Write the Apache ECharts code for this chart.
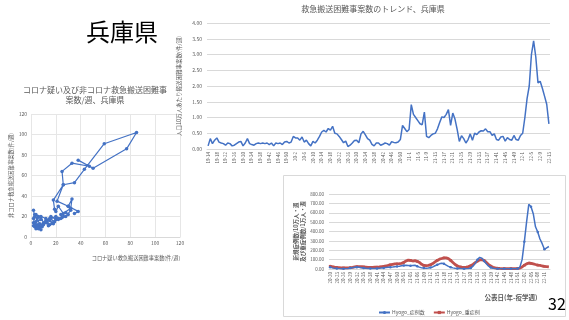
<!DOCTYPE html>
<html><head><meta charset="utf-8">
<script src="https://cdn.jsdelivr.net/npm/echarts@6/dist/echarts.min.js"></script>
<style>html,body{margin:0;padding:0;background:#fff}#c{width:569px;height:320px}</style>
</head><body><div id="c"></div>
<script>
// ---- scatter: [covid-suspected, non-covid] weekly cases, chronological ----
const scatterPoints = [
 [2,26],[3,20],[2,14],[5,12],[3,10],[4,8],[6,11],[8,7],[5,9],[3,13],[2,18],[4,22],[6,20],[8,17],[4,15],[2,11],
 [5,18],[3,22],[7,13],[9,10],[12,15],[15,12],[10,14],[8,20],[12,18],[15,16],[17,14],[14,11],[18,13],[20,17],
 [16,20],[22,17],[25,19],[24,22],[28,24],[30,22],[26,20],[22,18],[19,15],[15,18],[13,14],[10,12],[8,10],[6,8],
 [9,12],[12,16],[16,18],[20,20],[24,18],[28,20],[32,26],[30,30],[33,37],[32,28],[26,23],[22,30],[20,25],[19,27],
 [18,36],[26,51],[35,53],[43,66],[59,91],[85,102],[77,86],[50,67],[38,75],[47,69],[33,72],[25,64],[26,51],[21,35],
 [30,30],[38,25],[35,23]
];
// ---- top trend: week segments [year, firstWeek, lastWeek] ----
const topWeekSegments = [[19,14,52],[20,1,53],[21,1,52],[22,1,13]];
const topValues = [
 0.10,0.33,0.17,0.28,0.35,0.22,0.19,0.17,0.12,0.19,0.17,0.10,0.12,0.17,0.22,0.24,0.10,0.19,0.33,0.17,
 0.14,0.12,0.17,0.19,0.17,0.19,0.17,0.19,0.14,0.19,0.10,0.19,0.17,0.19,0.14,0.22,0.24,0.19,0.22,
 0.40,0.35,0.35,0.28,0.38,0.22,0.28,0.17,0.10,0.24,0.19,0.28,0.40,0.54,0.59,0.54,0.65,0.60,0.72,
 0.50,0.48,0.40,0.30,0.20,0.25,0.08,0.12,0.19,0.27,0.28,0.20,0.48,0.56,0.45,0.33,0.28,0.15,0.10,0.19,0.19,0.12,
 0.15,0.19,0.17,0.12,0.23,0.21,0.20,0.22,0.30,0.75,0.65,0.55,0.62,1.41,1.10,1.00,0.90,0.80,0.77,1.17,
 0.40,0.36,0.43,0.48,0.50,0.64,0.84,1.02,1.00,1.10,1.25,0.75,1.14,0.95,0.62,0.24,0.42,0.33,0.19,0.30,
 0.48,0.28,0.50,0.46,0.54,0.58,0.57,0.64,0.55,0.55,0.43,0.48,0.30,0.28,0.38,0.40,0.25,0.36,0.30,0.28,
 0.43,0.30,0.28,0.43,0.50,1.00,1.60,2.00,3.00,3.43,2.92,2.10,2.15,1.93,1.68,1.42,0.80
];
// ---- bottom chart ----
const bottomWeekSegments = [[20,20,53],[21,1,52],[22,1,13]];
const hyogoCases = [
 20,12,8,5,4,3,3,4,6,10, 14,18,20,18,14,10,8,6,5,5,
 5,6,8,10,12,15,18,20,22,25, 28,30,35,38,40,38,35,38,40,30,
 20,12,10,9,10,15,22,35,45,55, 62,55,42,28,18,12,8,6,5,4,
 4,4,5,10,30,60,100,124,115,85, 55,30,15,8,5,3,3,2,2,2,
 2,2,2,2,2,20,100,290,500,690, 665,590,450,395,320,270,210,225,240
];
const hyogoSevere = [
 30,24,20,17,15,13,12,12,13,15, 18,22,25,25,24,22,20,18,17,18,
 20,20,22,25,28,32,38,45,50,55, 55,57,60,70,85,95,92,85,90,82,
 70,50,38,35,38,45,58,75,92,105, 112,118,118,110,92,70,48,32,24,20,
 18,20,25,35,50,68,85,97,100,90, 70,48,30,18,12,8,6,5,5,5,
 5,5,5,5,6,10,22,40,55,64, 60,55,48,42,38,32,28,25,22
];
const topYTicks = {min:0, max:4, interval:0.5};
const bottomYTicks = {min:0, max:800, interval:100};

function weeks(segs, pad){
  const out=[];
  segs.forEach(([y,a,b])=>{for(let w=a;w<=b;w++){out.push(y+'-'+(pad&&w<10?'0'+w:w));}});
  return out;
}
const topCats = weeks(topWeekSegments,false);
const bottomCats = weeks(bottomWeekSegments,true);

const FONT = '"Noto Sans CJK JP"';
const gray='#595959', grid='#d9d9d9', blue='#4472C4', red='#C0504D';
const chart = echarts.init(document.getElementById('c'));
chart.setOption({
  animation:false,
  textStyle:{fontFamily:FONT},
  grid:[
    {left:31, top:114, width:149, height:123},
    {left:207, top:23, width:343, height:126},
    {left:329, top:194, width:221, height:75}
  ],
  xAxis:[
    {gridIndex:0, type:'value', min:0, max:120, interval:20,
     axisLine:{lineStyle:{color:grid}}, axisTick:{show:false},
     axisLabel:{fontSize:5, color:gray, margin:4},
     splitLine:{lineStyle:{color:'#e6e6e6'}}},
    {gridIndex:1, type:'category', data:topCats, boundaryGap:true,
     axisLine:{lineStyle:{color:grid}}, axisTick:{show:false},
     axisLabel:{interval:3, rotate:90, fontSize:4.5, color:gray, margin:3}},
    {gridIndex:2, type:'category', data:bottomCats, boundaryGap:true,
     axisLine:{lineStyle:{color:grid}}, axisTick:{show:false},
     axisLabel:{interval:2, rotate:90, fontSize:4.5, color:gray, margin:3}}
  ],
  yAxis:[
    {gridIndex:0, type:'value', min:0, max:120, interval:20,
     name:'非コロナ救急搬送困難事案数(件/週)', nameLocation:'middle', nameGap:17,
     nameTextStyle:{fontSize:5.3, color:gray},
     axisLine:{show:false}, axisTick:{show:false},
     axisLabel:{fontSize:5, color:gray, margin:4},
     splitLine:{lineStyle:{color:'#e6e6e6'}}},
    {gridIndex:1, type:'value', min:topYTicks.min, max:topYTicks.max, interval:topYTicks.interval,
     name:'人口10万人あたり搬送困難事案数(件/週)', nameLocation:'middle', nameGap:19,
     nameTextStyle:{fontSize:5.5, color:gray},
     axisLine:{show:false}, axisTick:{show:false},
     axisLabel:{fontSize:5, color:gray, margin:5, formatter:v=>v.toFixed(2)},
     splitLine:{lineStyle:{color:grid}}},
    {gridIndex:2, type:'value', min:bottomYTicks.min, max:bottomYTicks.max, interval:bottomYTicks.interval,
     name:'新規症例数/10万人・週\n及び重症例数/1万人・週', nameLocation:'middle', nameGap:22,
     nameTextStyle:{fontSize:5.5, color:gray, fontWeight:'bold', lineHeight:7},
     axisLine:{show:false}, axisTick:{show:false},
     axisLabel:{fontSize:4.5, color:gray, margin:5, formatter:v=>v.toFixed(2)},
     splitLine:{lineStyle:{color:grid}}}
  ],
  legend:{left:373, top:305, itemWidth:11, itemHeight:4, itemGap:8,
    textStyle:{fontSize:5, color:gray, padding:[0,0,0,-3]}, data:['Hyogo_症例数','Hyogo_重症例']},
  series:[
    {type:'line', xAxisIndex:0, yAxisIndex:0, data:scatterPoints, symbol:'circle', symbolSize:3.5,
     lineStyle:{color:blue, width:1.2}, itemStyle:{color:blue}},
    {type:'line', xAxisIndex:1, yAxisIndex:1, data:topValues, symbol:'none',
     lineStyle:{color:blue, width:1.5}},
    {name:'Hyogo_症例数', type:'line', xAxisIndex:2, yAxisIndex:2, data:hyogoCases, symbol:'circle', symbolSize:2.5,
     lineStyle:{color:blue, width:1.5}, itemStyle:{color:blue}, z:3},
    {name:'Hyogo_重症例', type:'line', xAxisIndex:2, yAxisIndex:2, data:hyogoSevere, symbol:'rect', symbolSize:2.5,
     lineStyle:{color:red, width:2.8}, itemStyle:{color:red}, z:2}
  ],
  graphic:[
    {type:'rect', shape:{x:283.5, y:175.5, width:282, height:141}, style:{fill:'none', stroke:'#d9d9d9', lineWidth:1}, z:-1},
    {type:'text', x:122, y:32, style:{text:'兵庫県', font:'24px '+FONT, fill:'#000', textAlign:'center', textVerticalAlign:'middle'}},
    {type:'text', x:95, y:90, style:{text:'コロナ疑い及び非コロナ救急搬送困難事', font:'8px '+FONT, fill:gray, textAlign:'center', textVerticalAlign:'middle'}},
    {type:'text', x:95, y:100, style:{text:'案数/週、兵庫県', font:'8px '+FONT, fill:gray, textAlign:'center', textVerticalAlign:'middle'}},
    {type:'text', x:136, y:258, style:{text:'コロナ疑い救急搬送困難事案数(件/週)', font:'5.2px '+FONT, fill:gray, textAlign:'center', textVerticalAlign:'middle'}},
    {type:'text', x:373, y:9, style:{text:'救急搬送困難事案数のトレンド、兵庫県', font:'8px '+FONT, fill:gray, textAlign:'center', textVerticalAlign:'middle'}},
    {type:'text', x:511, y:298, style:{text:'公表日(年-疫学週)', font:'bold 6.5px '+FONT, fill:gray, textAlign:'center', textVerticalAlign:'middle'}},
    {type:'text', x:557, y:304, style:{text:'32', font:'16px '+FONT, fill:'#000', textAlign:'center', textVerticalAlign:'middle'}}
  ]
});
</script></body></html>
